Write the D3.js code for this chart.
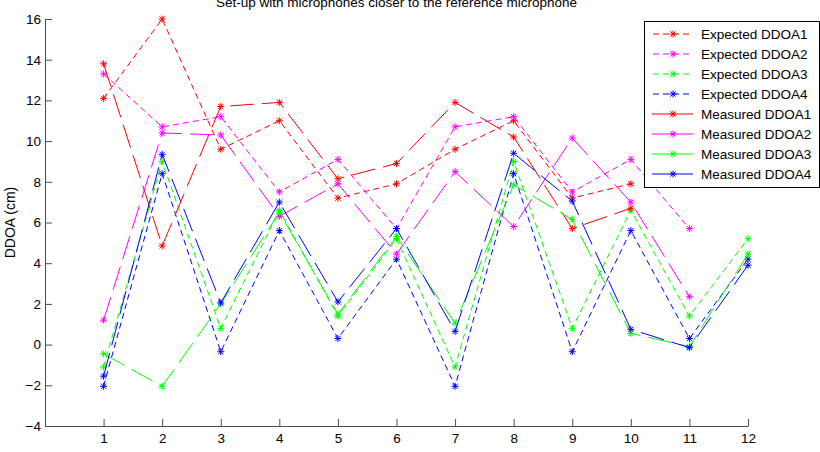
<!DOCTYPE html>
<html lang="en">
<head>
    <meta charset="UTF-8">
    <title>DDOA</title>
    <script src="https://d3js.org/d3.v7.min.js"></script>
    <style>
        body { margin: 0; background: #fff; }
        text { font-family: "Liberation Sans", Arial, sans-serif; }
    </style>
</head>
<body>
    <svg width="820" height="452"></svg>

    <script>
        const expected1 = [12.1, 16.0, 9.6, 11.0, 7.2, 7.9, 9.6, 11.0, 7.2, 7.9];
        const expected2 = [13.3, 10.7, 11.2, 7.5, 9.1, 5.7, 10.7, 11.2, 7.5, 9.1, 5.7];
        const expected3 = [-1.1, 9.0, 0.8, 6.6, 1.4, 5.2, -1.1, 9.0, 0.8, 6.6, 1.4, 5.2];
        const expected4 = [-2.05, 8.4, -0.35, 5.6, 0.3, 4.2, -2.05, 8.4, -0.35, 5.6, 0.3, 4.2];
        const measured1 = [13.8, 4.85, 11.7, 11.9, 8.15, 8.9, 11.9, 10.2, 5.7, 6.7];
        const measured2 = [1.2, 10.4, 10.3, 6.3, 7.9, 4.45, 8.5, 5.8, 10.15, 7.0, 2.35];
        const measured3 = [-0.45, -2.05, 2.0, 6.5, 1.5, 5.3, 1.05, 7.85, 6.15, 0.55, -0.1, 4.45];
        const measured4 = [-1.55, 9.35, 2.05, 7.0, 2.1, 5.7, 0.65, 9.4, 7.05, 0.75, -0.15, 3.9];

        const seriesNames = ['Expected DDOA1', 'Expected DDOA2', 'Expected DDOA3', 'Expected DDOA4',
                             'Measured DDOA1', 'Measured DDOA2', 'Measured DDOA3', 'Measured DDOA4'];
        const seriesValues = [expected1, expected2, expected3, expected4,
                              measured1, measured2, measured3, measured4];
        const seriesColors = ['#ff0000', '#ff00ff', '#00ff00', '#0000ff',
                              '#ff0000', '#ff00ff', '#00ff00', '#0000ff'];

        const xTicks = [1, 2, 3, 4, 5, 6, 7, 8, 9, 10, 11, 12];
        const yTicks = [-4, -2, 0, 2, 4, 6, 8, 10, 12, 14, 16];

        const svg = d3.select('svg');
        const x = d3.scaleLinear().domain([0, 12]).range([45, 748]);
        const y = d3.scaleLinear().domain([-4, 16]).range([426, 19]);

        const axisColor = '#4d4d4d';

        // axes, ticks pointing inwards like matlab
        const gx = svg.append('g')
            .attr('transform', `translate(0,${y(-4)})`)
            .call(d3.axisBottom(x).tickValues(xTicks).tickSizeInner(-7).tickSizeOuter(0).tickPadding(7));
        const gy = svg.append('g')
            .attr('transform', `translate(${x(0)},0)`)
            .call(d3.axisLeft(y).tickValues(yTicks).tickSizeInner(-7).tickSizeOuter(0).tickPadding(4));

        [gx, gy].forEach(g => {
            g.select('.domain').attr('stroke', axisColor);
            g.selectAll('.tick line').attr('stroke', axisColor);
            g.selectAll('.tick text').attr('fill', '#000').style('font-size', '13.5px')
                .style('font-family', '"Liberation Sans", Arial, sans-serif');
        });

        // title and y label
        svg.append('text')
            .attr('x', (x(0) + x(12)) / 2)
            .attr('y', 7)
            .attr('text-anchor', 'middle')
            .style('font-size', '13.5px')
            .text('Set-up with microphones closer to the reference microphone');

        svg.append('text')
            .attr('transform', `translate(15,${(y(-4) + y(16)) / 2}) rotate(-90)`)
            .attr('text-anchor', 'middle')
            .style('font-size', '14px')
            .text('DDOA (cm)');

        const star = 'M-3.5,0H3.5M0,-3.5V3.5M-2.6,-2.6L2.6,2.6M-2.6,2.6L2.6,-2.6';
        const dashFor = i => i < 4 ? '6,4' : '24,8';

        const line = d3.line().x((d, i) => x(i + 1)).y(d => y(d));

        seriesValues.forEach((vals, i) => {
            const g = svg.append('g');
            g.append('path')
                .datum(vals)
                .attr('d', line)
                .attr('fill', 'none')
                .attr('stroke', seriesColors[i])
                .attr('stroke-width', 1)
                .attr('stroke-dasharray', dashFor(i));
            g.selectAll('path.mark')
                .data(vals)
                .enter().append('path')
                .attr('class', 'mark')
                .attr('d', star)
                .attr('transform', (d, j) => `translate(${x(j + 1)},${y(d)})`)
                .attr('fill', 'none')
                .attr('stroke', seriesColors[i])
                .attr('stroke-width', 1);
        });

        // legend box
        const legend = svg.append('g').attr('transform', 'translate(644,21)');
        legend.append('rect')
            .attr('x', 0.5).attr('y', 0.5)
            .attr('width', 175).attr('height', 166)
            .attr('fill', '#fff')
            .attr('stroke', '#000')
            .attr('stroke-width', 1);

        seriesNames.forEach((name, i) => {
            const row = legend.append('g').attr('transform', `translate(0,${13 + i * 20})`);
            row.append('line')
                .attr('x1', 8).attr('x2', 49).attr('y1', 0).attr('y2', 0)
                .attr('stroke', seriesColors[i])
                .attr('stroke-dasharray', i < 4 ? '6,4' : null)
                .attr('stroke-dashoffset', i < 4 ? -1 : 0);
            row.append('path')
                .attr('d', star)
                .attr('transform', 'translate(29,0)')
                .attr('fill', 'none')
                .attr('stroke', seriesColors[i]);
            row.append('text')
                .attr('x', 57).attr('y', 0).attr('dy', '0.35em')
                .style('font-size', '13.5px')
                .text(name);
        });
    </script>
</body>
</html>
